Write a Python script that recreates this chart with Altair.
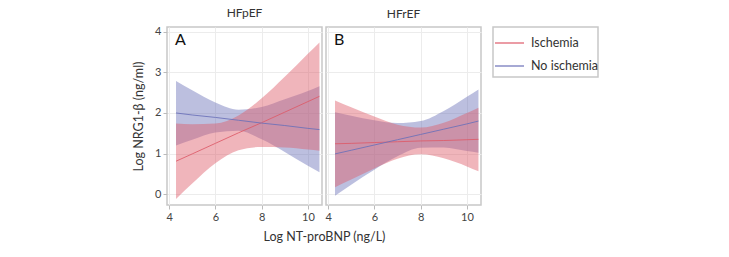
import altair as alt
import pandas as pd

# Shared x positions (Log NT-proBNP) at which the curves/bands were read
x_vals = [4.3, 5, 6, 7, 8, 9, 10, 10.5]

# Panel A (HFpEF)
a_isch_fit = [0.81, 0.99, 1.25, 1.51, 1.76, 2.02, 2.28, 2.41]
a_isch_lo = [-0.12, 0.26, 0.76, 1.08, 1.16, 1.15, 1.10, 1.07]
a_isch_hi = [1.74, 1.72, 1.74, 1.94, 2.36, 2.89, 3.46, 3.74]
a_no_fit = [2.00, 1.95, 1.89, 1.82, 1.75, 1.69, 1.62, 1.59]
a_no_lo = [1.20, 1.34, 1.52, 1.56, 1.35, 1.04, 0.70, 0.54]
a_no_hi = [2.79, 2.56, 2.26, 2.08, 2.15, 2.34, 2.54, 2.66]

# Panel B (HFrEF)
b_isch_fit = [1.24, 1.25, 1.27, 1.29, 1.31, 1.32, 1.34, 1.35]
b_isch_lo = [0.17, 0.36, 0.63, 0.87, 0.98, 0.88, 0.68, 0.56]
b_isch_hi = [2.31, 2.14, 1.91, 1.71, 1.64, 1.76, 2.00, 2.13]
b_no_fit = [0.99, 1.08, 1.21, 1.34, 1.47, 1.60, 1.73, 1.80]
b_no_lo = [-0.04, 0.23, 0.60, 0.93, 1.14, 1.15, 1.06, 1.02]
b_no_hi = [2.02, 1.93, 1.82, 1.75, 1.80, 2.05, 2.40, 2.58]

panels = ["HFpEF", "HFrEF"]
groups = ["Ischemia", "No ischemia"]
colors = ["#dd5a68", "#6a70b8"]

series = {
    ("HFpEF", "Ischemia"): (a_isch_fit, a_isch_lo, a_isch_hi),
    ("HFpEF", "No ischemia"): (a_no_fit, a_no_lo, a_no_hi),
    ("HFrEF", "Ischemia"): (b_isch_fit, b_isch_lo, b_isch_hi),
    ("HFrEF", "No ischemia"): (b_no_fit, b_no_lo, b_no_hi),
}

rows = []
for (p, g), (f, lo, hi) in series.items():
    for i, xv in enumerate(x_vals):
        rows.append({"panel": p, "group": g, "x": xv,
                     "fit": f[i], "lo": lo[i], "hi": hi[i]})
df = pd.DataFrame(rows)

FONT = "Lato"
color_scale = alt.Scale(domain=groups, range=colors)
xs = alt.Scale(domain=[3.91, 10.61], nice=False, zero=False)
ys = alt.Scale(domain=[-0.27, 4.12], nice=False, zero=False)

common_axis = dict(domain=False, tickColor="#bbb", tickSize=4, labelColor="#444",
                   labelFontSize=11, labelFont=FONT, gridColor="#ececec",
                   titleFont=FONT, titleFontSize=12.5, titleFontWeight="normal",
                   titleColor="#333")


def panel(name, letter, first):
    d = df[df.panel == name]
    if first:
        x = alt.X("x:Q", scale=xs, title="Log NT-proBNP (ng/L)",
                  axis=alt.Axis(values=[4, 6, 8, 10], titlePadding=8, titleX=157,
                                titleAnchor="middle", titleAlign="center",
                                **common_axis))
        y = alt.Y("lo:Q", scale=ys, title="Log NRG1-β (ng/ml)",
                  axis=alt.Axis(values=[0, 1, 2, 3, 4], titlePadding=9,
                                **common_axis))
    else:
        x = alt.X("x:Q", scale=xs, title=None,
                  axis=alt.Axis(values=[4, 6, 8, 10], **common_axis))
        y = alt.Y("lo:Q", scale=ys, title=None,
                  axis=alt.Axis(values=[0, 1, 2, 3, 4], domain=False, ticks=False,
                                labels=False, gridColor="#ececec"))

    base = alt.Chart(d)
    band_no = base.transform_filter(alt.datum.group == "No ischemia").mark_area(
        opacity=0.45, color=colors[1], interpolate="monotone").encode(
        x=x, y=y, y2="hi:Q")
    band_is = base.transform_filter(alt.datum.group == "Ischemia").mark_area(
        opacity=0.45, color=colors[0], interpolate="monotone").encode(
        x=x, y=y, y2="hi:Q")
    line = base.mark_line(strokeWidth=1, opacity=0.85).encode(
        x=alt.X("x:Q", scale=xs),
        y=alt.Y("fit:Q", scale=ys),
        color=alt.Color("group:N", scale=color_scale, legend=None),
    )
    lab = alt.Chart(pd.DataFrame({"t": [letter]})).mark_text(
        font=FONT, fontSize=16, align="left", baseline="top", color="#111"
    ).encode(text="t:N", x=alt.value(8), y=alt.value(5))
    return alt.layer(band_no, band_is, line, lab).properties(
        width=155, height=178,
        title=alt.TitleParams(name, font=FONT, fontSize=12, fontWeight="normal",
                              color="#333", offset=6),
    )


leg_df = pd.DataFrame({"group": groups, "idx": [0, 1]})
leg_y = alt.Y("idx:Q", scale=alt.Scale(domain=[0, 1], range=[16, 39]), axis=None)
leg_rule = alt.Chart(leg_df).mark_rule(strokeWidth=1.2).encode(
    x=alt.value(2), x2=alt.value(31), y=leg_y,
    color=alt.Color("group:N", scale=color_scale, legend=None),
)
leg_text = alt.Chart(leg_df).mark_text(
    font=FONT, fontSize=12.5, align="left", baseline="middle", color="#333"
).encode(x=alt.value(38), y=leg_y, text="group:N")
legend = alt.layer(leg_rule, leg_text).properties(width=105, height=50)

panels_row = alt.hconcat(panel("HFpEF", "A", True), panel("HFrEF", "B", False),
                         spacing=4, bounds="flush")

chart = alt.hconcat(panels_row, legend, spacing=10).configure_view(
    stroke="#c8c8c8", strokeWidth=1.5
).properties(padding={"left": 131, "top": 6, "right": 5, "bottom": 5})

chart.save("out.html", embed_options={"renderer": "svg", "actions": False})
